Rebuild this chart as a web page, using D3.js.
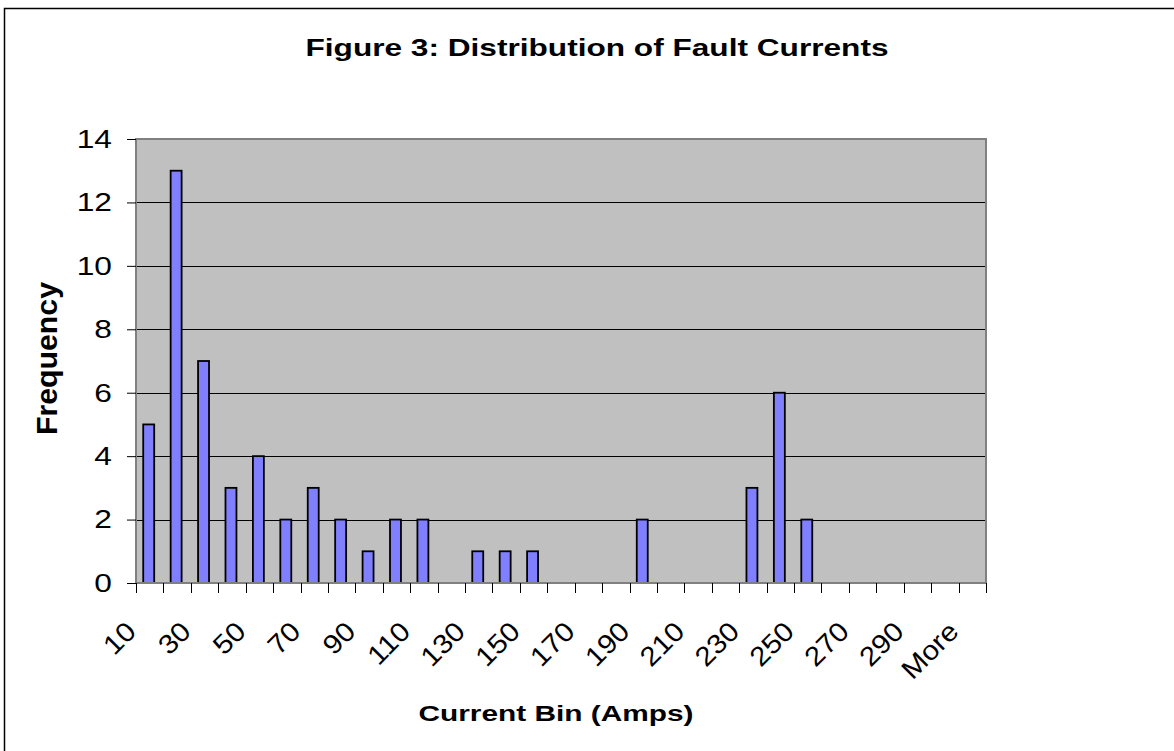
<!DOCTYPE html>
<html>
<head>
<meta charset="utf-8">
<script src="https://cdn.jsdelivr.net/npm/d3@7"></script>
<style>
  body { margin: 0; background: #fff; }
  svg { display: block; }
</style>
</head>
<body>
<div id="chart"></div>
<script>
// histogram bins and counts
const bins = ["10", "20", "30", "40", "50", "60", "70", "80", "90", "100",
  "110", "120", "130", "140", "150", "160", "170", "180", "190", "200",
  "210", "220", "230", "240", "250", "260", "270", "280", "290", "300", "More"];
const frequency = [5, 13, 7, 3, 4, 2, 3, 2, 1, 2,
  2, 0, 1, 1, 1, 0, 0, 0, 2, 0,
  0, 0, 3, 6, 2, 0, 0, 0, 0, 0, 0];
const yTicks = [0, 2, 4, 6, 8, 10, 12, 14];
const xLabels = bins.filter((d, i) => i % 2 === 0);

const title = "Figure 3: Distribution of Fault Currents";
const xTitle = "Current Bin (Amps)";
const yTitle = "Frequency";

const width = 1174, height = 751;
const plot = { left: 136, right: 986, top: 139, bottom: 583 };
const font = "'Liberation Sans', Arial, Helvetica, sans-serif";
const stretch = 1.22; // text in the picture is wider than tall

const data = bins.map((b, i) => ({ bin: b, value: frequency[i] }));

const svg = d3.select("#chart").append("svg")
  .attr("width", width)
  .attr("height", height)
  .style("font-family", font);

// outer chart frame
svg.append("rect")
  .attr("x", 4.5).attr("y", 8.5)
  .attr("width", 1200).attr("height", 800)
  .attr("fill", "#fff")
  .attr("stroke", "#000")
  .attr("stroke-width", 1.5);

const x = d3.scaleBand().domain(bins).range([plot.left, plot.right]).padding(0);
const y = d3.scaleLinear().domain([0, 14]).range([plot.bottom, plot.top]);

// plot area
svg.append("rect")
  .attr("x", plot.left).attr("y", plot.top)
  .attr("width", plot.right - plot.left)
  .attr("height", plot.bottom - plot.top)
  .attr("fill", "#c0c0c0");

// gridlines
svg.append("g")
  .selectAll("line")
  .data(yTicks.filter(t => t > 0 && t < 14))
  .join("line")
  .attr("x1", plot.left).attr("x2", plot.right)
  .attr("y1", d => Math.round(y(d)) + 0.5)
  .attr("y2", d => Math.round(y(d)) + 0.5)
  .attr("stroke", "#000")
  .attr("stroke-width", 1);

// bars
const barW = x.bandwidth() * 0.4;
svg.append("g")
  .selectAll("rect")
  .data(data.filter(d => d.value > 0))
  .join("rect")
  .attr("x", d => x(d.bin) + (x.bandwidth() - barW) / 2 - 1)
  .attr("y", d => y(d.value))
  .attr("width", barW)
  .attr("height", d => y(0) - y(d.value))
  .attr("fill", "#8080ff")
  .attr("stroke", "#000")
  .attr("stroke-width", 1.8);

// plot border
svg.append("rect")
  .attr("x", plot.left).attr("y", plot.top)
  .attr("width", plot.right - plot.left)
  .attr("height", plot.bottom - plot.top)
  .attr("fill", "none")
  .attr("stroke", "#808080")
  .attr("stroke-width", 2);

// y axis
const yAxis = svg.append("g")
  .attr("transform", "translate(" + plot.left + ",0)")
  .call(d3.axisLeft(y).tickValues(yTicks).tickSize(9).tickPadding(15));
yAxis.select(".domain").remove();
yAxis.selectAll(".tick line").attr("stroke", "#000");
yAxis.selectAll(".tick text")
  .attr("fill", "#000")
  .style("font-size", "26px")
  .style("font-family", font)
  .each(function () {
    d3.select(this)
      .attr("textLength", this.getComputedTextLength() * stretch)
      .attr("lengthAdjust", "spacingAndGlyphs");
  });

// x axis: ticks sit on the bin edges
const edges = bins.map(b => x(b)).concat([plot.right]);
svg.append("g")
  .selectAll("line")
  .data(edges)
  .join("line")
  .attr("x1", d => Math.round(d) + 0.5)
  .attr("x2", d => Math.round(d) + 0.5)
  .attr("y1", plot.bottom)
  .attr("y2", plot.bottom + 10)
  .attr("stroke", "#000");

svg.append("g")
  .selectAll("text")
  .data(xLabels)
  .join("text")
  .attr("transform", d => {
    const cx = x(d) + x.bandwidth() / 2 - 12;
    return "translate(" + cx + ",633) rotate(-45)";
  })
  .attr("text-anchor", "end")
  .style("font-size", "27px")
  .attr("fill", "#000")
  .text(d => d)
  .each(function () {
    d3.select(this)
      .attr("textLength", this.getComputedTextLength() * 1.1)
      .attr("lengthAdjust", "spacingAndGlyphs");
  });

// titles
svg.append("text")
  .attr("x", 597).attr("y", 55.5)
  .attr("text-anchor", "middle")
  .attr("textLength", 583)
  .attr("lengthAdjust", "spacingAndGlyphs")
  .style("font-size", "24px")
  .style("font-weight", "bold")
  .text(title);

svg.append("text")
  .attr("x", 556).attr("y", 721)
  .attr("text-anchor", "middle")
  .attr("textLength", 275)
  .attr("lengthAdjust", "spacingAndGlyphs")
  .style("font-size", "22px")
  .style("font-weight", "bold")
  .text(xTitle);

svg.append("text")
  .attr("transform", "translate(57,358.5) rotate(-90)")
  .attr("text-anchor", "middle")
  .attr("textLength", 153)
  .attr("lengthAdjust", "spacingAndGlyphs")
  .style("font-size", "30px")
  .style("font-weight", "bold")
  .text(yTitle);
</script>
</body>
</html>
